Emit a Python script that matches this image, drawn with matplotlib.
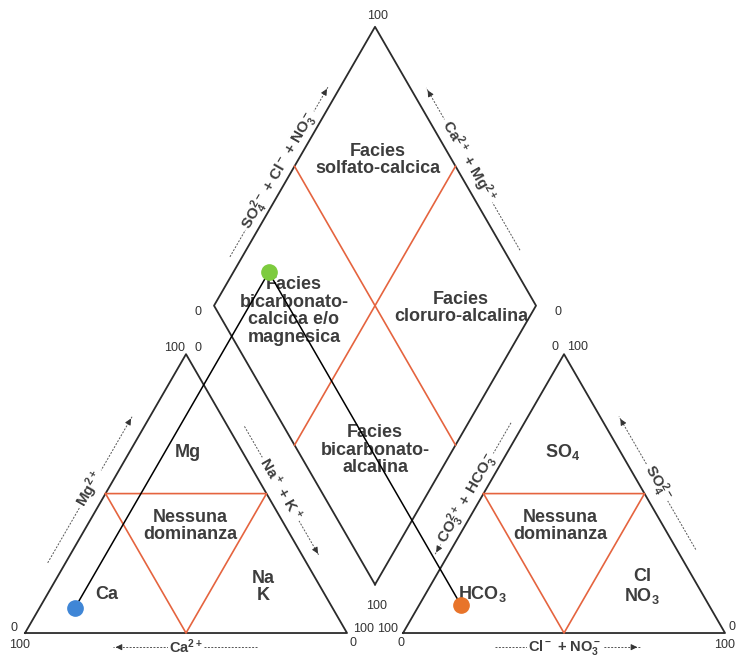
import numpy as np
import matplotlib
matplotlib.use('Agg')

import matplotlib.pyplot as plt

plt.rcParams['font.family'] = ['Liberation Sans', 'DejaVu Sans']
plt.rcParams['mathtext.fontset'] = 'custom'
plt.rcParams['mathtext.rm'] = 'Liberation Sans'
plt.rcParams['mathtext.bf'] = 'Liberation Sans:bold'
plt.rcParams['mathtext.default'] = 'bf'

# one water sample, percent of meq/l
sample_ca = [80]
sample_mg = [9]
sample_nak = [11]
sample_hco3 = [77]
sample_so4 = [10]
sample_cl = [13]
sample_colors = ['#3f86d6', '#e8742a', '#7dcb3e']  # cation, anion, diamond

H = np.sqrt(3) / 2
GAP = 17.4
EDGE = '#2b2b2b'
RED = '#e5643f'
TXT = '#3d3d3d'


def cat_xy(mg, nak):
    return nak + mg * 0.5, mg * H


def an_xy(so4, cl):
    return 100 + GAP + cl + so4 * 0.5, so4 * H


def diamond_xy(nak, so4, cl):
    a = 100 + GAP + cl + so4
    return (nak + a) / 2, H * (a - nak)


def edge_pt(p0, p1, f, d):
    p0 = np.array(p0, float)
    p1 = np.array(p1, float)
    v = p1 - p0
    u = v / np.hypot(*v)
    n = np.array([-u[1], u[0]])
    return p0 + v * f + n * d


def poly(ax, pts, **kw):
    pts = np.array(pts + [pts[0]])
    ax.plot(pts[:, 0], pts[:, 1], **kw)


def mid(a, b):
    return ((a[0] + b[0]) / 2, (a[1] + b[1]) / 2)


def dashed_arrow(ax, start, tip):
    start = np.array(start)
    tip = np.array(tip)
    ax.plot([start[0], tip[0]], [start[1], tip[1]], ls=(0, (2, 1.5)), lw=0.7, color='#555555', zorder=1)
    back = tip - (tip - start) / np.hypot(*(tip - start)) * 2.5
    ax.annotate('', xy=tip, xytext=back,
                arrowprops=dict(arrowstyle='-|>', color='#333333', lw=0.7, mutation_scale=9), zorder=1)


def edge_label(ax, p0, p1, f0, f1, ft, d, text, rot):
    dashed_arrow(ax, edge_pt(p0, p1, f0, d), edge_pt(p0, p1, f1, d))
    x, y = edge_pt(p0, p1, ft, d)
    ax.text(x, y, text, rotation=rot, ha='center', va='center', fontsize=11, fontweight='bold',
            color=TXT, rotation_mode='anchor', zorder=2,
            bbox=dict(fc='white', ec='none', pad=1.5))


fig = plt.figure(figsize=(7.36, 6.56), dpi=100)
ax = fig.add_axes([0, 0, 1, 1])
ax.set_xlim(-7.76, 220.8)
ax.set_ylim(-7.14, 196.6)
ax.set_aspect('equal')
ax.axis('off')

# frames
L = [(0, 0), (100, 0), (50, 100 * H)]
R = [(100 + GAP, 0), (200 + GAP, 0), (150 + GAP, 100 * H)]
Db = (100 + GAP / 2, GAP * H)
Dl = (Db[0] - 50, Db[1] + 100 * H)
Dt = (Db[0], Db[1] + 200 * H)
Dr = (Db[0] + 50, Db[1] + 100 * H)
D = [Db, Dl, Dt, Dr]

for shape in (L, R, D):
    poly(ax, shape, color=EDGE, lw=1.3, zorder=3)

# sub-fields
for tri in (L, R):
    poly(ax, [mid(tri[0], tri[2]), mid(tri[1], tri[2]), mid(tri[0], tri[1])], color=RED, lw=1.2, zorder=3)
for a, b in ((mid(Dl, Dt), mid(Db, Dr)), (mid(Dt, Dr), mid(Dl, Db))):
    ax.plot([a[0], b[0]], [a[1], b[1]], color=RED, lw=1.2, zorder=3)

# sample projection
for i in range(len(sample_ca)):
    cx, cy = cat_xy(sample_mg[i], sample_nak[i])
    axx, ayy = an_xy(sample_so4[i], sample_cl[i])
    dx, dy = diamond_xy(sample_nak[i], sample_so4[i], sample_cl[i])
    ax.plot([cx, dx, axx], [cy, dy, ayy], color='black', lw=1.1, zorder=4)
    ax.plot(cx, cy, 'o', ms=11, color=sample_colors[0], zorder=5)
    ax.plot(axx, ayy, 'o', ms=11, color=sample_colors[1], zorder=5)
    ax.plot(dx, dy, 'o', ms=11, color=sample_colors[2], zorder=5)

# field names
big = dict(ha='center', va='center', fontsize=13, fontweight='bold', color=TXT, linespacing=1.05, zorder=2)
ax.text(109.6, 146.9, 'Facies\nsolfato-calcica', **big)
ax.text(83.5, 100.0, 'Facies\nbicarbonato-\ncalcica e/o\nmagnesica', **big)
ax.text(135.4, 100.9, 'Facies\ncloruro-alcalina', **big)
ax.text(108.7, 56.8, 'Facies\nbicarbonato-\nalcalina', **big)
ax.text(50.6, 56.2, 'Mg', **big)
ax.text(51.2, 33.2, 'Nessuna\ndominanza', **big)
ax.text(25.5, 12.1, 'Ca', **big)
ax.text(73.9, 14.3, 'Na\nK', **big)
ax.text(167.1, 56.2, r'SO$_4$', **big)
ax.text(166.1, 33.2, 'Nessuna\ndominanza', **big)
ax.text(142.2, 12.1, r'HCO$_3$', **big)
ax.text(191.6, 14.3, 'Cl\nNO$_3$', **big)

# axis names
edge_label(ax, L[0], L[2], 0.224, 0.75, 0.49, 4.8, r'Mg$^{2+}$', 60)
edge_label(ax, L[2], L[1], 0.285, 0.75, 0.51, 4.5, r'Na$^+$ + K$^+$', -60)
edge_label(ax, R[0], R[2], 0.733, 0.26, 0.46, 3.6, r'CO$_3^{2+}$ + HCO$_3^-$', 60)
edge_label(ax, R[2], R[1], 0.73, 0.253, 0.49, 5.1, r'SO$_4^{2-}$', -60)
edge_label(ax, Dl, Dt, 0.156, 0.767, 0.465, 3.3, r'SO$_4^{2-}$ + Cl$^-$ + NO$_3^-$', 60)
edge_label(ax, Dr, Dt, 0.174, 0.756, 0.494, -4.3, r'Ca$^{2+}$ + Mg$^{2+}$', -60)

dashed_arrow(ax, (72, -4.4), (27.3, -4.4))
ax.text(50, -4.4, r'Ca$^{2+}$', ha='center', va='center', fontsize=10.5, fontweight='bold', color=TXT,
        zorder=2, bbox=dict(fc='white', ec='none', pad=1.0))
dashed_arrow(ax, (146, -4.4), (191, -4.4))
ax.text(167.7, -4.4, r'Cl$^-$ + NO$_3^-$', ha='center', va='center', fontsize=10.5, fontweight='bold',
        color=TXT, zorder=2, bbox=dict(fc='white', ec='none', pad=1.0))

# scale numbers
num = dict(ha='center', va='center', fontsize=9, color='#333333')
for x, y, s in [(46.3, 88.5, '100'), (53.7, 88.5, '0'), (-3.4, 1.6, '0'), (-1.6, -3.7, '100'),
                (105, 1.2, '100'), (101.9, -3.1, '0'), (112.7, 1.2, '100'), (116.8, -3.1, '0'),
                (109.3, 8.4, '100'), (164.6, 88.8, '0'), (171.7, 88.8, '100'), (217.4, -3.7, '100'),
                (219.6, 1.9, '0'), (109.6, 191.6, '100'), (53.7, 99.7, '0'), (165.5, 99.7, '0')]:
    ax.text(x, y, s, **num)

fig.savefig('out.png', dpi=100)
